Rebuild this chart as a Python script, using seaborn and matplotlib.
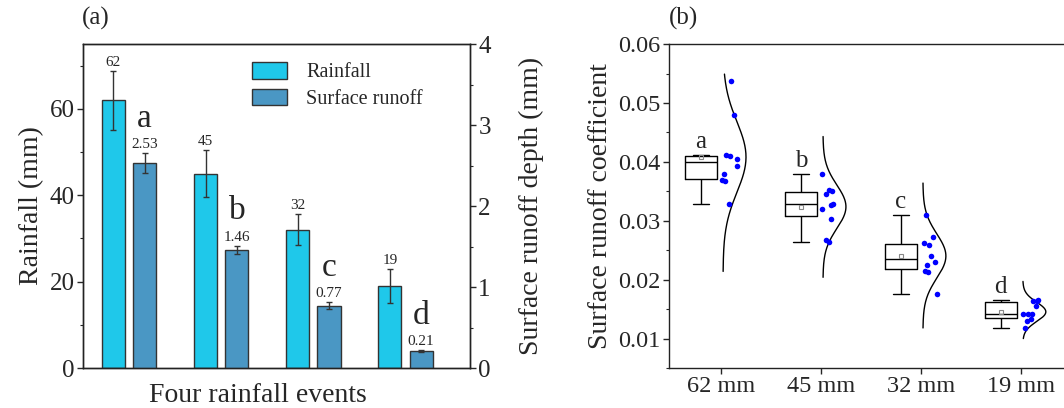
import numpy as np
import pandas as pd
import matplotlib.pyplot as plt
import matplotlib.patches as mpatches
from matplotlib.ticker import MultipleLocator, FormatStrFormatter
import seaborn as sns

# 数据 (a)
events = ["62 mm", "45 mm", "32 mm", "19 mm"]
rainfall = [62, 45, 32, 19]
rainfall_sd = [6.8, 5.5, 3.6, 4.0]
runoff = [2.53, 1.46, 0.77, 0.21]
runoff_sd = [0.12, 0.05, 0.04, 0.01]
runoff_letters = ["a", "b", "c", "d"]

# 数据 (b)：径流系数
coef_62 = [0.0537, 0.0480, 0.0411, 0.0410, 0.0405, 0.0393, 0.0380, 0.0368, 0.0369, 0.0329]
coef_45 = [0.0379, 0.0353, 0.0350, 0.0345, 0.0329, 0.0327, 0.0320, 0.0303, 0.0268, 0.0264]
coef_32 = [0.0310, 0.0272, 0.0259, 0.0262, 0.0241, 0.0230, 0.0225, 0.0215, 0.0213, 0.0175]
coef_19 = [0.0166, 0.0164, 0.0163, 0.0156, 0.0142, 0.0141, 0.0141, 0.0134, 0.0129, 0.0118]
coef_letters = ["a", "b", "c", "d"]
curve_top = [0.0549, 0.0443, 0.0364, 0.0197]
curve_bottom = [0.0214, 0.0204, 0.0118, 0.0100]

c_rain = "#1FC8EA"
c_runoff = "#4A97C4"
c_edge = "#333333"

sns.set_style("ticks")
plt.rcParams['font.family'] = ['Liberation Serif', 'DejaVu Serif']
plt.rcParams['xtick.direction'] = 'out'
plt.rcParams['ytick.direction'] = 'out'
plt.rcParams['axes.linewidth'] = 1.0
plt.rcParams['axes.edgecolor'] = '#222222'

np.random.seed(3)

fig = plt.figure(figsize=(10.64, 4.08), dpi=100)

# ---------- (a) ----------
ax1 = fig.add_axes([0.078, 0.098, 0.3637, 0.794])
ax1r = ax1.twinx()
pos = np.arange(len(events))
off = 0.17

sns.barplot(x=pos - off, y=rainfall, native_scale=True, width=0.25, color=c_rain,
            saturation=1, edgecolor=c_edge, linewidth=1, errorbar=None, ax=ax1)
ax1.errorbar(pos - off, rainfall, yerr=rainfall_sd, fmt='none', ecolor=c_edge,
             elinewidth=1, capsize=2.5, capthick=1)
sns.barplot(x=pos + off, y=runoff, native_scale=True, width=0.25, color=c_runoff,
            saturation=1, edgecolor=c_edge, linewidth=1, errorbar=None, ax=ax1r)
ax1r.errorbar(pos + off, runoff, yerr=runoff_sd, fmt='none', ecolor=c_edge,
              elinewidth=1, capsize=2.5, capthick=1)

for x, v, s in zip(pos - off, rainfall, rainfall_sd):
    ax1.annotate(f"{v}", (x, v + s), xytext=(0, 1.5), textcoords='offset points',
                 ha='center', va='bottom', fontsize=11)
for x, v, s, l in zip(pos + off, runoff, runoff_sd, runoff_letters):
    ax1r.annotate(f"{v:.2f}", (x, v + s), xytext=(0, 1.5), textcoords='offset points',
                  ha='center', va='bottom', fontsize=11)
    ax1r.annotate(l, (x, v + s), xytext=(0, 19), textcoords='offset points',
                  ha='center', va='baseline', fontsize=24)

ax1.set_xlim(-0.5, 3.7)
ax1.set_ylim(0, 75)
ax1r.set_ylim(0, 4)
ax1.yaxis.set_major_locator(MultipleLocator(20))
ax1.yaxis.set_minor_locator(MultipleLocator(10))
ax1r.yaxis.set_major_locator(MultipleLocator(1))
ax1r.yaxis.set_minor_locator(MultipleLocator(0.5))
ax1.tick_params(axis='x', bottom=False, labelbottom=False)
ax1r.tick_params(axis='x', bottom=False, labelbottom=False)
for a in (ax1, ax1r):
    a.tick_params(axis='y', which='major', length=4, width=1, labelsize=18, pad=2)
    a.tick_params(axis='y', which='minor', length=2.5, width=0.8)
ax1.set_ylabel("Rainfall (mm)", fontsize=20)
ax1r.set_ylabel("Surface runoff depth (mm)", fontsize=20, labelpad=20)
ax1.set_xlabel("Four rainfall events", fontsize=20)
ax1.xaxis.set_label_coords(0.452, -0.045)
for sp in ax1r.spines.values():
    sp.set_visible(True)

handles = [mpatches.Patch(facecolor=c_rain, edgecolor=c_edge, linewidth=1),
           mpatches.Patch(facecolor=c_runoff, edgecolor=c_edge, linewidth=1)]
ax1r.legend(handles, ["Rainfall", "Surface runoff"], loc='upper left',
            bbox_to_anchor=(0.39, 1.0), frameon=False, fontsize=14.5,
            handlelength=1.75, handleheight=0.9, labelspacing=0.3, handletextpad=0.95)

# ---------- (b) ----------
ax2 = fig.add_axes([0.6288, 0.098, 0.387, 0.794])
groups = [coef_62, coef_45, coef_32, coef_19]
df_b = pd.DataFrame({
    "pos": np.repeat(pos, [len(g) for g in groups]),
    "coef": np.concatenate(groups),
})

sns.boxplot(x=df_b["pos"] - 0.2, y=df_b["coef"], native_scale=True, width=0.32,
            fill=False, color="black", linewidth=1, showfliers=False, whis=1.5,
            showmeans=True,
            meanprops=dict(marker='s', markerfacecolor='none', markeredgecolor='#888888',
                           markersize=3, markeredgewidth=0.8),
            ax=ax2)
sns.stripplot(x=df_b["pos"] + 0.09, y=df_b["coef"], native_scale=True, jitter=0.085,
              color="#0000FF", size=4, linewidth=0, ax=ax2)

# 半边正态曲线
for i, g in enumerate(groups):
    g = np.array(g)
    m, s = g.mean(), g.std(ddof=1)
    yy = np.linspace(curve_bottom[i], curve_top[i], 200)
    xx = pos[i] + 0.02 + 0.23 * np.exp(-0.5 * ((yy - m) / s) ** 2)
    ax2.plot(xx, yy, color="black", linewidth=1)

    q1, q3 = np.percentile(g, [25, 75])
    upper = g[g <= q3 + 1.5 * (q3 - q1)].max()
    ax2.annotate(coef_letters[i], (pos[i] - 0.2, upper), xytext=(0, 5),
                 textcoords='offset points', ha='center', va='baseline', fontsize=18)

ax2.set_xlim(-0.52, 3.6)
ax2.set_ylim(0.005, 0.06)
ax2.set_xticks(pos)
ax2.set_xticklabels(events)
ax2.yaxis.set_major_locator(MultipleLocator(0.01))
ax2.yaxis.set_minor_locator(MultipleLocator(0.005))
ax2.yaxis.set_major_formatter(FormatStrFormatter('%.2f'))
ax2.tick_params(axis='both', which='major', length=4, width=1, labelsize=17.5, pad=2)
ax2.tick_params(axis='y', which='minor', length=2.5, width=0.8)
ax2.set_xlabel("")
ax2.set_ylabel("Surface runoff coefficient", fontsize=20)

fig.text(0.077, 0.955, "(a)", fontsize=18, va='center', ha='left')
fig.text(0.629, 0.955, "(b)", fontsize=18, va='center', ha='left')

fig.savefig("out.png", dpi=100)
